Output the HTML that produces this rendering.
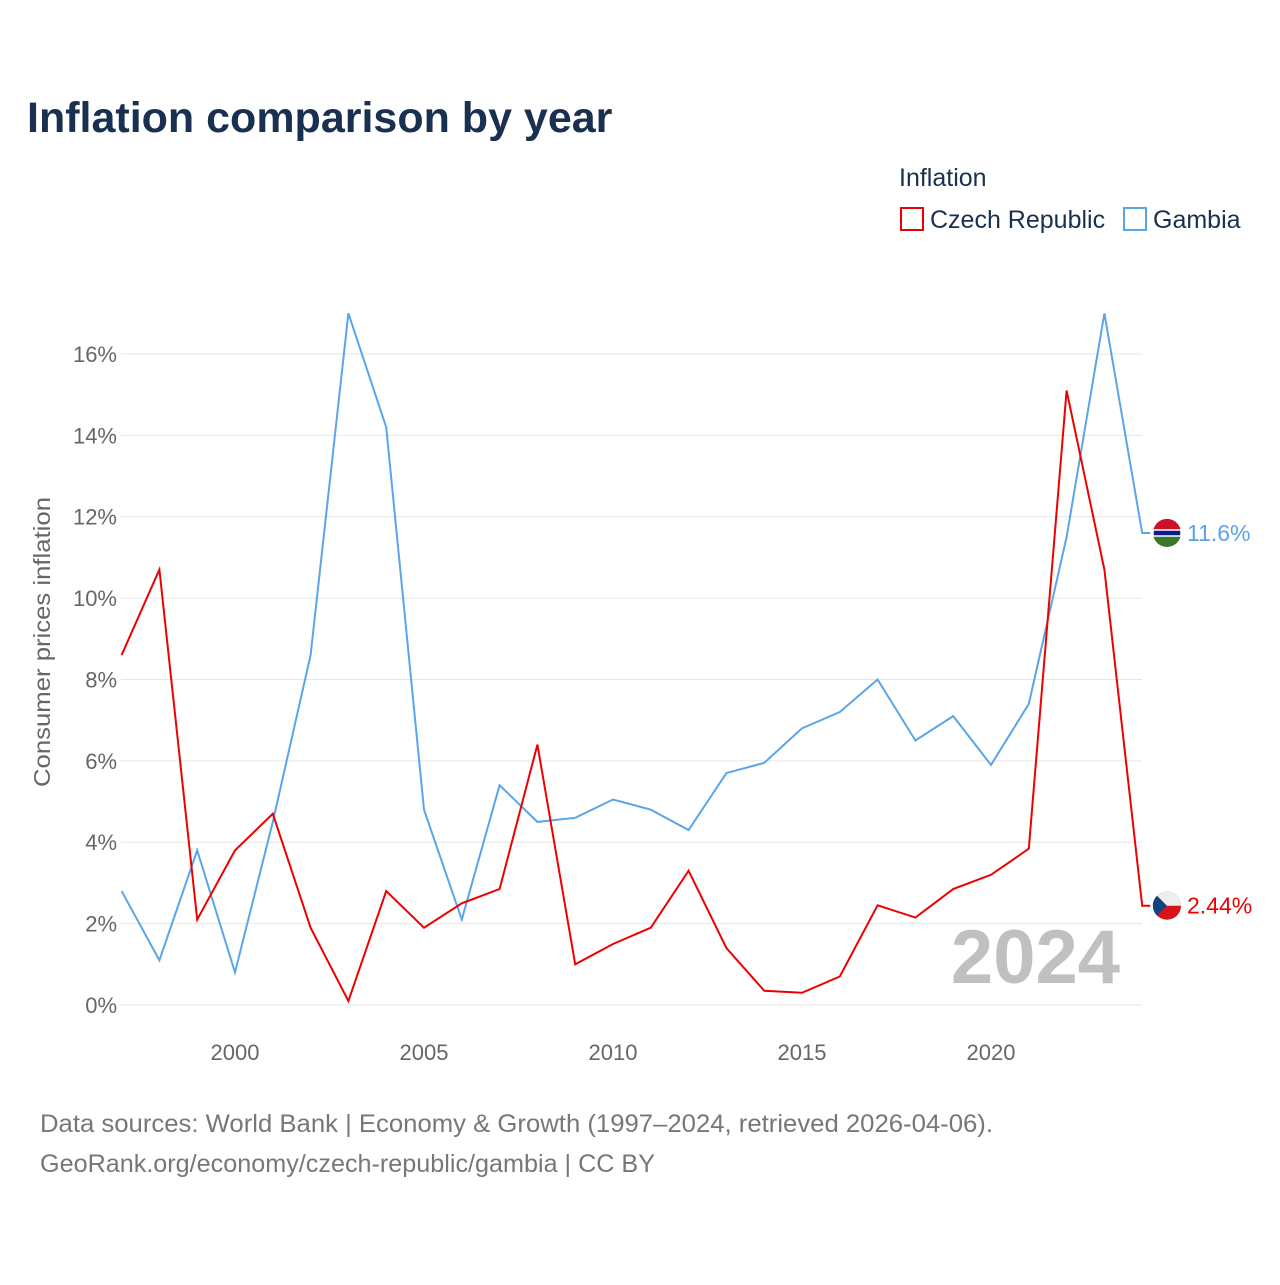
<!DOCTYPE html>
<html><head><meta charset="utf-8"><style>
body{margin:0;background:#fff;font-family:"Liberation Sans",sans-serif}
</style></head><body>
<svg id="c" width="1280" height="1280" xmlns="http://www.w3.org/2000/svg">
<text x="27" y="132" font-size="43" font-weight="bold" fill="#1a3050">Inflation comparison by year</text>
<text x="899" y="186" font-size="25" fill="#1a3050">Inflation</text>
<g><rect x="901" y="208" width="22" height="22" fill="none" stroke="#ee0000" stroke-width="2"/><text x="930" y="228" font-size="25" fill="#1a3050">Czech Republic</text></g>
<g><rect x="1124" y="208" width="22" height="22" fill="none" stroke="#5aa5ea" stroke-width="2"/><text x="1153" y="228" font-size="25" fill="#1a3050">Gambia</text></g>
<text transform="translate(50,642) rotate(-90)" text-anchor="middle" font-size="23" fill="#666" textLength="290" lengthAdjust="spacingAndGlyphs">Consumer prices inflation</text>
<g id="grid"></g><g id="series"></g>
<text x="1120" y="983" text-anchor="end" font-size="76" font-weight="bold" fill="#c0c0c0">2024</text>
<text x="40" y="1132" font-size="25" fill="#777" textLength="953" lengthAdjust="spacingAndGlyphs">Data sources: World Bank | Economy &amp; Growth (1997–2024, retrieved 2026-04-06).</text>
<text x="40" y="1172" font-size="25" fill="#777" textLength="615" lengthAdjust="spacingAndGlyphs">GeoRank.org/economy/czech-republic/gambia | CC BY</text>
</svg>
<script>
const years=[1997,1998,1999,2000,2001,2002,2003,2004,2005,2006,2007,2008,2009,2010,2011,2012,2013,2014,2015,2016,2017,2018,2019,2020,2021,2022,2023,2024];
const czech=[8.6,10.7,2.1,3.8,4.7,1.9,0.1,2.8,1.9,2.5,2.85,6.4,1.0,1.5,1.9,3.3,1.4,0.35,0.3,0.7,2.45,2.15,2.85,3.2,3.84,15.1,10.7,2.44];
const gambia=[2.8,1.1,3.8,0.8,4.5,8.6,17.0,14.2,4.8,2.1,5.4,4.5,4.6,5.05,4.8,4.3,5.7,5.95,6.8,7.2,8.0,6.5,7.1,5.9,7.4,11.5,17.0,11.6];
const yTicks=[0,2,4,6,8,10,12,14,16];
const xTicks=[2000,2005,2010,2015,2020];
const NS="http://www.w3.org/2000/svg";
const X=y=>121.6+(y-1997)*37.8, Y=v=>1005-v*40.69;
function mk(t,a,p){const e=document.createElementNS(NS,t);for(const k in a)e.setAttribute(k,a[k]);p.appendChild(e);return e;}
const g=document.getElementById('grid'),s=document.getElementById('series');
yTicks.forEach(v=>{const l=mk('line',{x1:121,x2:1142,y1:Y(v),y2:Y(v),stroke:'#e6e6e6'},g);


const t=mk('text',{x:117,y:Y(v)+8,'text-anchor':'end','font-size':22,fill:'#666'},g);t.textContent=v+'%';

});
xTicks.forEach(v=>{const t=mk('text',{x:X(v),y:1060,'text-anchor':'middle','font-size':22,fill:'#666'},g);t.textContent=v;

});
function line(d,col,name,lab,ly,flag){
 const pts=d.map((v,i)=>X(years[i])+','+Y(v)).join(' ')+' '+(X(2024)+8)+','+Y(d[d.length-1]);
 const p=mk('polyline',{points:pts,fill:'none',stroke:col,'stroke-width':2},s);
 
 
 const cy=Y(d[d.length-1]);
 const fg=mk('g',{},s);
 
 
 if(flag==='gm'){mk('circle',{cx:1167,cy:cy,r:14,fill:'#3a7728'},fg);mk('path',{d:`M1153 ${cy} A14 14 0 0 1 1181 ${cy} Z`,fill:'#ce1126'},fg);mk('rect',{x:1153,y:cy-3,width:28,height:6,fill:'#0c1c8c',stroke:'#fff','stroke-width':1.5},fg);}
 else{mk('circle',{cx:1167,cy:cy,r:14,fill:'#d7141a'},fg);mk('path',{d:`M1153 ${cy} A14 14 0 0 1 1181 ${cy} Z`,fill:'#eee'},fg);mk('path',{d:`M1157 ${cy-10} L1167 ${cy} L1157 ${cy+10} A14 14 0 0 1 1157 ${cy-10} Z`,fill:'#11457e'},fg);}
 const t=mk('text',{x:1187,y:cy+8,'font-size':23,fill:col},s);t.textContent=lab;
 
 
}
line(gambia,'#5aa5ea','gambia','11.6%',0,'gm');
line(czech,'#ee0000','czech','2.44%',0,'cz');
</script>
</body></html>
